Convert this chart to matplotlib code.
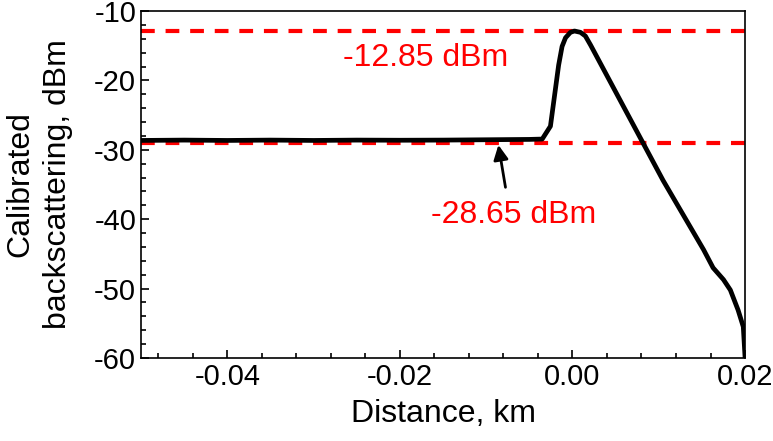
import matplotlib.pyplot as plt
from matplotlib.ticker import MultipleLocator

plt.rcParams['font.family'] = ['Liberation Sans', 'DejaVu Sans']
plt.rcParams['axes.unicode_minus'] = False

# backscattering trace (km, dBm)
distance = [-0.05, -0.045, -0.04, -0.035, -0.03, -0.025, -0.02, -0.015, -0.01,
            -0.005, -0.0035, -0.00255, -0.0016, -0.0012, -0.0008, -0.00023,
            0.00023, 0.00093, 0.0015, 0.0021,
            0.0105, 0.0152, 0.0163, 0.0175, 0.0183, 0.0192, 0.0198, 0.02]
power = [-28.65, -28.6, -28.65, -28.6, -28.65, -28.6, -28.62, -28.6, -28.55,
         -28.5, -28.45, -26.6, -17.8, -15.1, -13.85, -13.07,
         -12.88, -13.07, -13.6, -14.9,
         -34.4, -44.4, -47.0, -48.7, -50.2, -53.1, -55.5, -59.8]

# reference levels (dashed red lines) and their labels
ref_levels = [-12.85, -28.95]
ref_labels = ['-12.85 dBm', '-28.65 dBm']

fig = plt.figure(figsize=(7.73, 4.41), dpi=100)
ax = fig.add_axes([0.1824, 0.1882, 0.9638 - 0.1824, 0.975 - 0.1882])

for lvl in ref_levels:
    ax.axhline(lvl, color='red', lw=3, ls=(0, (3.3, 2.6)), zorder=1)

ax.plot(distance, power, color='black', lw=3.4, zorder=2,
        solid_joinstyle='round')

ax.text(-0.01704, -16.8, ref_labels[0], color='red', fontsize=23,
        ha='center', va='center')
ax.annotate(ref_labels[1], xy=(-0.00858, -29.3), xytext=(-0.00684, -39.4),
            color='red', fontsize=23, ha='center', va='center')
ax.annotate('', xy=(-0.00858, -29.3), xytext=(-0.00776, -35.4),
            arrowprops=dict(arrowstyle='-|>', color='black', lw=2,
                            mutation_scale=22, shrinkA=0, shrinkB=0))

ax.set_xlim(-0.05, 0.02)
ax.set_ylim(-60, -10)
ax.xaxis.set_major_locator(MultipleLocator(0.02))
ax.xaxis.set_minor_locator(MultipleLocator(0.004))
ax.yaxis.set_major_locator(MultipleLocator(10))
ax.yaxis.set_minor_locator(MultipleLocator(2))
ax.xaxis.set_major_formatter(plt.FuncFormatter(lambda v, p: f'{v:.2f}'.replace('-0.00', '0.00')))
ax.tick_params(which='both', direction='in', labelsize=21, width=1.2)
ax.tick_params(which='major', length=6)
ax.tick_params(which='minor', length=3.5)
for s in ax.spines.values():
    s.set_linewidth(1.2)

ax.set_xlabel('Distance, km', fontsize=23, labelpad=6)
ax.set_ylabel('Calibrated\nbackscattering, dBm', fontsize=23, labelpad=15,
              linespacing=1.35)

fig.savefig('out.png', dpi=100)
